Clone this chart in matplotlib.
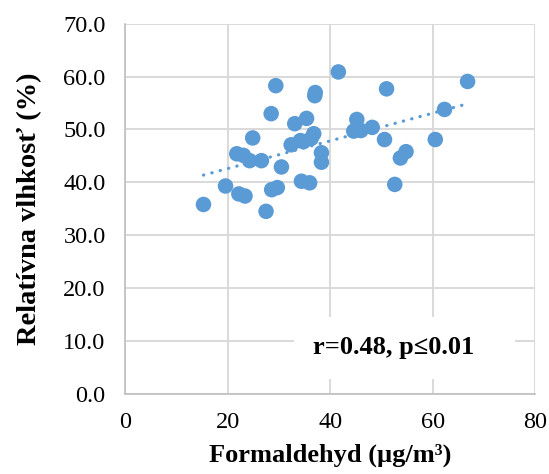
import numpy as np
import matplotlib
matplotlib.use("Agg")
import matplotlib.pyplot as plt
from matplotlib.patches import Rectangle

# Formaldehyde concentration (µg/m³) vs. relative humidity (%)
formaldehyd = [15.3, 19.6, 21.8, 22.2, 23.4, 23.1, 24.3, 24.9, 26.6, 27.5,
               28.5, 28.6, 29.7, 29.4, 30.5, 32.4, 33.1, 34.4, 34.8, 35.4,
               36.0, 36.3, 36.8, 37.0, 37.1, 38.3, 38.3, 41.6, 44.6, 45.2,
               46.0, 48.2, 50.6, 51.0, 52.6, 53.7, 54.8, 60.5, 62.3, 66.8,
               34.2]
vlhkost = [35.8, 39.3, 45.4, 37.8, 37.4, 45.1, 44.1, 48.4, 44.1, 34.5,
           53.0, 38.6, 39.0, 58.3, 42.9, 47.1, 51.1, 40.2, 47.7, 52.1,
           39.9, 48.3, 49.2, 56.4, 57.0, 45.6, 43.8, 60.9, 49.7, 51.9,
           49.8, 50.4, 48.1, 57.7, 39.6, 44.6, 45.8, 48.1, 53.8, 59.1,
           47.9]

x_ticks = [0, 20, 40, 60, 80]
y_ticks = [0, 10, 20, 30, 40, 50, 60, 70]
annotation = "r=0.48, p≤0.01"

blue = "#5B9BD5"
plt.rcParams["font.family"] = ["Liberation Serif", "DejaVu Serif"]

fig = plt.figure(figsize=(5.49, 4.74), dpi=100)
ax = fig.add_axes([0.2277, 0.1698, 0.7473, 0.7798])

x = np.array(formaldehyd)
y = np.array(vlhkost)

ax.scatter(x, y, s=125, color=blue, edgecolors="none", zorder=3)

# linear trend over the observed range
k, q = np.polyfit(x, y, 1)
xt = np.array([x.min(), x.max() - 0.8])
ax.plot(xt, k * xt + q, color=blue, lw=2.3, linestyle=(0, (0.1, 2.6)),
        dash_capstyle="round", zorder=2)

ax.set_xlim(0, 80)
ax.set_ylim(0, 70)
ax.set_xticks(x_ticks)
ax.set_yticks(y_ticks)
ax.set_yticklabels([f"{v:.1f}" for v in y_ticks])
ax.tick_params(axis="both", length=0, labelsize=17.5, colors="black")
ax.tick_params(axis="y", pad=14)
ax.tick_params(axis="x", pad=13)

ax.grid(True, color="#D9D9D9", lw=1.4, zorder=0)
ax.set_axisbelow(True)
for side in ("top", "right"):
    ax.spines[side].set_visible(False)
for side in ("left", "bottom"):
    ax.spines[side].set_color("#BFBFBF")
    ax.spines[side].set_linewidth(1.2)

# statistics label on a white panel
ax.add_patch(Rectangle((32.9, 2.75), 43.1, 11.75, facecolor="white",
                       edgecolor="none", zorder=1.5))
ax.text(36.6, 8.7, annotation, fontsize=19, fontweight="bold",
        ha="left", va="center", zorder=4)

ax.set_xlabel("Formaldehyd (µg/m³)", fontsize=19, fontweight="bold", labelpad=8)
ax.set_ylabel("Relatívna vlhkosť (%)", fontsize=20.5, fontweight="bold", labelpad=15)

fig.savefig("out.png", dpi=100)
